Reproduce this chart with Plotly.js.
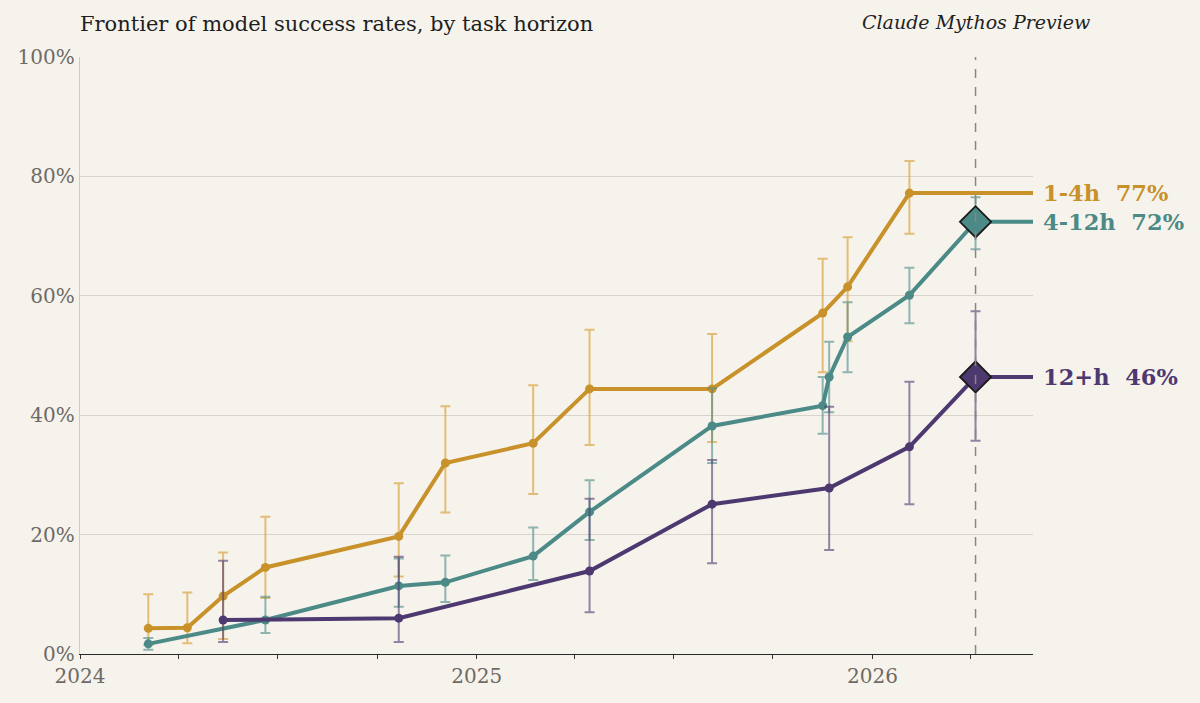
<!DOCTYPE html>
<html>
<head>
<meta charset="utf-8">
<script src="https://cdn.plot.ly/plotly-3.0.1.min.js"></script>
<style>
  html, body { margin: 0; padding: 0; background: #f6f3ed; }
  #chart { width: 1200px; height: 703px; }
</style>
</head>
<body>
<div id="chart"></div>
<script>
// 1-4h tasks
var shortDates = ['2024-03-04', '2024-04-09', '2024-05-12', '2024-06-20', '2024-10-21', '2024-12-03',
                  '2025-02-22', '2025-04-15', '2025-08-06', '2025-11-16', '2025-12-09', '2026-02-04'];
var shortVals  = [4.3, 4.4, 9.7, 14.5, 19.7, 32.0, 35.3, 44.4, 44.4, 57.1, 61.5, 77.2];
var shortHigh  = [10.0, 10.3, 17.0, 23.0, 28.6, 41.5, 45.0, 54.3, 53.6, 66.2, 69.8, 82.6];
var shortLow   = [1.5, 1.8, 2.5, 9.4, 13.0, 23.7, 26.8, 35.0, 35.5, 47.2, 52.4, 70.4];

// 4-12h tasks
var midDates = ['2024-03-04', '2024-06-20', '2024-10-21', '2024-12-03', '2025-02-22', '2025-04-15',
                '2025-08-06', '2025-11-16', '2025-11-22', '2025-12-09', '2026-02-04', '2026-04-06'];
var midVals  = [1.7, 5.7, 11.4, 12.0, 16.4, 23.8, 38.2, 41.6, 46.4, 53.1, 60.1, 72.4];
var midHigh  = [2.7, 9.6, 16.0, 16.5, 21.2, 29.1, 44.5, 46.4, 52.3, 58.9, 64.7, 76.5];
var midLow   = [0.7, 3.5, 7.9, 8.7, 12.4, 19.1, 32.0, 36.9, 40.5, 47.2, 55.4, 67.8];

// 12+h tasks
var longDates = ['2024-05-12', '2024-10-21', '2025-04-15', '2025-08-06', '2025-11-22', '2026-02-04', '2026-04-06'];
var longVals  = [5.7, 6.0, 13.9, 25.1, 27.8, 34.7, 46.4];
var longHigh  = [15.6, 16.3, 26.0, 32.5, 41.4, 45.6, 57.4];
var longLow   = [2.0, 2.0, 7.0, 15.2, 17.4, 25.1, 35.7];

var seriesNames = ['1-4h', '4-12h', '12+h'];
var mythosDate = '2026-04-06';
var xStart = '2024-01-01';
var xEnd = '2026-05-29';
var yTicks = [0, 20, 40, 60, 80, 100];
var yTickText = yTicks.map(function(v) { return v + '%'; });

var colors = ['#c8912a', '#4b8a86', '#4e3870'];
var barColors = ['rgba(218,165,65,0.7)', 'rgba(75,138,134,0.6)', 'rgba(78,56,112,0.6)'];

var series = [
    {x: shortDates, y: shortVals, hi: shortHigh, lo: shortLow, mythos: false},
    {x: midDates, y: midVals, hi: midHigh, lo: midLow, mythos: true},
    {x: longDates, y: longVals, hi: longHigh, lo: longLow, mythos: true}
];

var traces = [];
var annotations = [];
var serif = 'DejaVu Serif, serif';

for (var i = 0; i < series.length; i++) {
    var s = series[i];
    var n = s.y.length;
    var last = s.y[n - 1];
    var plus = [], minus = [];
    for (var k = 0; k < n; k++) {
        plus.push(s.hi[k] - s.y[k]);
        minus.push(s.y[k] - s.lo[k]);
    }

    // flat tail out to the right edge
    traces.push({
        x: [s.x[n - 1], xEnd], y: [last, last],
        mode: 'lines', line: {color: colors[i], width: 4},
        hoverinfo: 'skip', showlegend: false
    });

    traces.push({
        x: s.x, y: s.y, name: seriesNames[i],
        mode: 'lines+markers',
        line: {color: colors[i], width: 4},
        marker: {color: colors[i], size: 9},
        error_y: {type: 'data', symmetric: false, array: plus, arrayminus: minus,
                  color: barColors[i], thickness: 2, width: 5},
        showlegend: false
    });

    if (s.mythos) {
        traces.push({
            x: [s.x[n - 1]], y: [last],
            mode: 'markers',
            marker: {symbol: 'diamond', size: 24, color: colors[i],
                     line: {color: '#1a1a1a', width: 1.8}},
            showlegend: false
        });
    }

    annotations.push({
        x: xEnd, y: last, xref: 'x', yref: 'y',
        xanchor: 'left', yanchor: 'middle', xshift: 8,
        text: '<b>' + seriesNames[i] + '\u00a0\u00a0' + Math.round(last) + '%</b>',
        showarrow: false,
        font: {family: serif, size: 22.5, color: colors[i]}
    });
}

annotations.push({
    x: mythosDate, y: 1.058, xref: 'x', yref: 'paper',
    xanchor: 'center', yanchor: 'middle',
    text: '<i>Claude Mythos Preview</i>', showarrow: false,
    font: {family: serif, size: 19, color: '#222'}
});

var layout = {
    width: 1200, height: 703,
    paper_bgcolor: '#f6f3ed', plot_bgcolor: '#f6f3ed',
    margin: {l: 80, r: 167, t: 57, b: 49},
    font: {family: serif, color: '#6e6a64'},
    title: {
        text: 'Frontier of model success rates, by task horizon',
        font: {family: serif, size: 21, color: '#1e1e1e'},
        xref: 'paper', x: 0, xanchor: 'left',
        yref: 'container', y: 0.967, yanchor: 'middle'
    },
    xaxis: {
        type: 'date', range: [xStart, xEnd],
        tick0: xStart, dtick: 'M12', tickformat: '%Y',
        ticks: 'outside', ticklen: 4, tickwidth: 1, tickcolor: '#333',
        minor: {dtick: 'M3', ticks: 'outside', ticklen: 4, tickcolor: '#333', showgrid: false},
        showgrid: false, zeroline: false,
        showline: true, linecolor: '#2a2a2a', linewidth: 1.4,
        tickfont: {family: serif, size: 20, color: '#6e6a64'}
    },
    yaxis: {
        range: [0, 100], tickmode: 'array', tickvals: yTicks, ticktext: yTickText,
        showgrid: true, gridcolor: '#d8d4cc', gridwidth: 1,
        zeroline: false, showline: true, linecolor: '#d0ccc4', linewidth: 1.3,
        ticks: '', tickfont: {family: serif, size: 20, color: '#6e6a64'}
    },
    shapes: [{
        type: 'line', xref: 'x', yref: 'paper',
        x0: mythosDate, x1: mythosDate, y0: 0, y1: 1,
        line: {color: '#8a8680', width: 1.5, dash: 'dash'}
    }],
    annotations: annotations,
    showlegend: false
};

Plotly.newPlot('chart', traces, layout, {displayModeBar: false, staticPlot: true});
</script>
</body>
</html>
